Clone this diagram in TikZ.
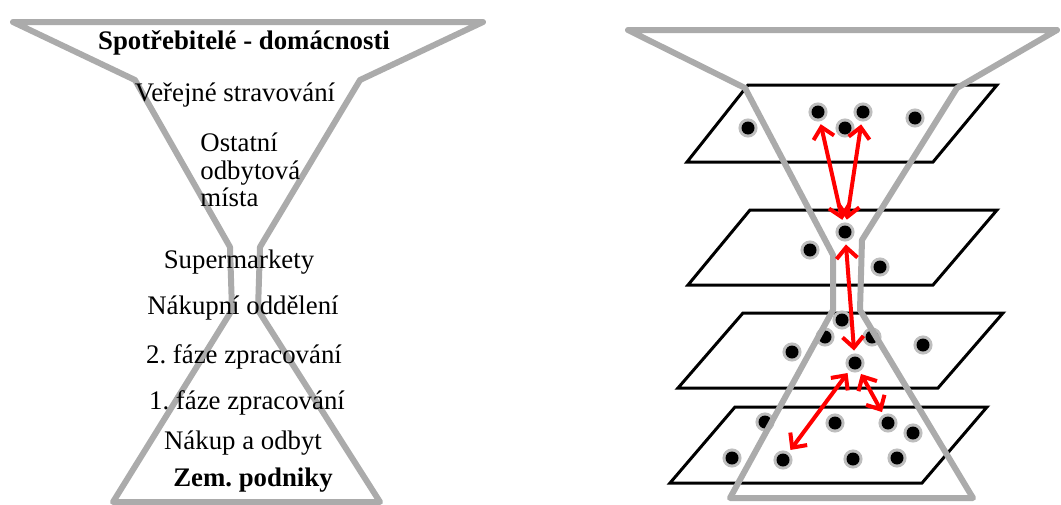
\documentclass[tikz,border=0pt]{standalone}
\usepackage{fontspec}
\setmainfont{Liberation Serif}
\usetikzlibrary{arrows.meta}
\definecolor{funnel}{HTML}{ABABAB}
\definecolor{halo}{HTML}{BEBEBE}
\definecolor{flow}{HTML}{FF0000}

\begin{document}
\begin{tikzpicture}[x=0.5pt,y=-0.5pt,
  lbl/.style={font=\fontsize{13.4}{13.8}\selectfont, inner sep=0pt},
  funnelline/.style={draw=funnel, line width=3pt, line join=round},
  plane/.style={draw=black, line width=1.5pt},
  dot/.style={circle, fill=black, minimum size=6.5pt, inner sep=0pt, outer sep=3pt, preaction={draw=halo, line width=3pt}},
  link/.style={draw=flow, line width=2pt, {Straight Barb[length=5.5pt,width=10.5pt]}-{Straight Barb[length=5.5pt,width=10.5pt]}}]
  \useasboundingbox (0,0) rectangle (1061,504);

  \draw[funnelline] (13,22) -- (483,22) -- (360,80) -- (260,247) -- (258,310) -- (380,502) -- (113,502) -- (232,310) -- (230,247) -- (135,80) -- cycle;
  \node[lbl, font=\fontsize{13.4}{13.8}\selectfont\bfseries] (spot) at (244,43) {Spotřebitelé - domácnosti};
  \node[lbl] (verej) at (235,95) {Veřejné stravování};
  \node[lbl, align=left, anchor=west] (ostat) at (200,170) {Ostatní\\odbytová\\místa};
  \node[lbl] (super) at (239,262) {Supermarkety};
  \node[lbl] (nakod) at (243,308) {Nákupní oddělení};
  \node[lbl] (faze2) at (244,357) {2.\ fáze zpracování};
  \node[lbl] (faze1) at (247,403) {1.\ fáze zpracování};
  \node[lbl] (nakup) at (243,443) {Nákup a odbyt};
  \node[lbl, font=\fontsize{13.4}{13.8}\selectfont\bfseries] (zem) at (253,480) {Zem.\ podniky};

  \foreach \t/\b/\tl/\tr/\bl/\br in {85/162/748/997/687/933, 210/285/750/997/688/933, 313/388/743/1003/678/938, 407/483/735/987/670/922}{
    \draw[plane] (\bl,\b) -- (\br,\b) -- (\tr,\t) -- (\tl,\t) -- cycle;
  }
  \foreach \name/\x/\y in {p1a/748/128, p1b/818/112, p1c/845/128, p1d/863/112, p1e/915/118,
    p2a/845/232, p2b/810/250, p2c/880/267,
    p3a/842/320, p3b/825/337, p3c/872/337, p3d/792/352, p3e/923/345, p3f/855/363,
    p4a/765/422, p4b/835/423, p4c/888/423, p4d/913/433, p4e/732/458, p4f/783/460, p4g/853/459, p4h/897/458}{
    \node[dot] (\name) at (\x,\y) {};
  }
  \draw[funnelline] (628,30) -- (1057,30) -- (957,88) -- (862,240) -- (860,310) -- (973,498) -- (730,498) -- (833,310) -- (833,255) -- (745,88) -- cycle;

  \draw[link] (p1b) -- (p2a);
  \draw[link] (p1d) -- (p2a);
  \draw[link] (p2a) -- (p3f);
  \draw[link] (p3f) -- (p4f);
  \draw[link] (p3f) -- (p4c);
\end{tikzpicture}
\end{document}
